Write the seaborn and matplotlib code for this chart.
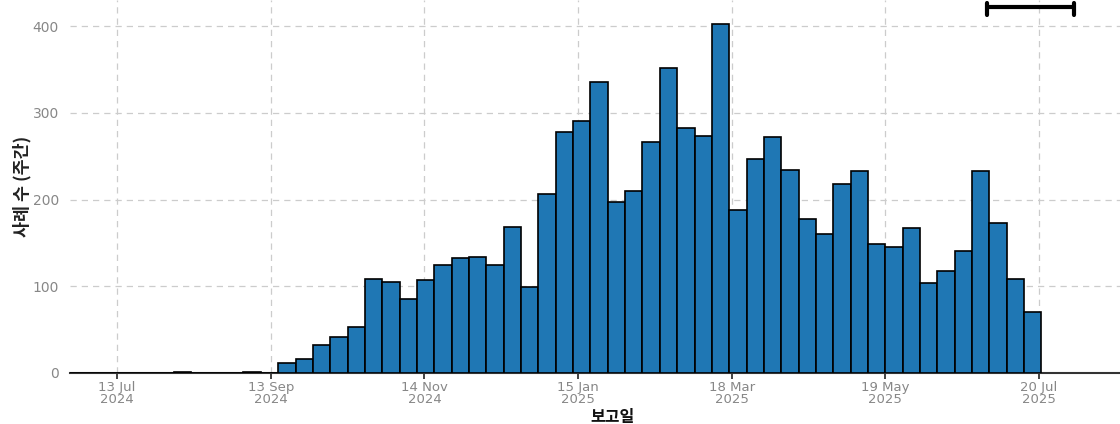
import pandas as pd
import seaborn as sns
import matplotlib
matplotlib.use("Agg")
import matplotlib.pyplot as plt
import matplotlib.dates as mdates

# weekly report counts, weeks starting on Mondays
first_week = "2024-06-24"
weekly_cases = [
    0, 0, 0, 0, 0, 0, 1, 0, 0, 0, 1, 0,
    11, 16, 32, 41, 53, 108, 105, 85, 107, 124, 133, 134, 125, 168, 99,
    206, 278, 291, 335, 197, 210, 266, 352, 283, 273, 402, 188,
    247, 272, 234, 178, 160, 218, 233, 149, 145, 167, 104, 118, 141,
    233, 173, 108, 70,
]
tick_dates = ["2024-07-13", "2024-09-13", "2024-11-14", "2025-01-15",
              "2025-03-18", "2025-05-19", "2025-07-20"]
tick_labels = ["13 Jul\n2024", "13 Sep\n2024", "14 Nov\n2024", "15 Jan\n2025",
               "18 Mar\n2025", "19 May\n2025", "20 Jul\n2025"]
y_ticks = [0, 100, 200, 300, 400]
# bracket marking the most recent (incomplete) reporting weeks
bracket_start = "2025-06-29"
bracket_end = "2025-08-03"

weeks = pd.date_range(first_week, periods=len(weekly_cases), freq="7D")
df = pd.DataFrame({"week": mdates.date2num(weeks), "cases": weekly_cases})
edges = list(df["week"]) + [df["week"].iloc[-1] + 7]

sns.set_theme(style="white")
plt.rcParams["font.family"] = ["Noto Sans CJK KR", "DejaVu Sans"]

fig = plt.figure(figsize=(11.2, 4.24), dpi=100)
# the plot area runs a little past the right edge of the picture
ax = fig.add_axes([0.0625, 0.1203, 0.96875, 0.8797])

sns.histplot(data=df, x="week", weights="cases", bins=edges, ax=ax,
             color="#1f77b4", alpha=1, edgecolor="black", linewidth=1.2, zorder=3)

x0 = df["week"].iloc[0]
ax.set_xlim(x0, x0 + 437.8)
ax.set_ylim(0, 430)

ax.set_xticks(mdates.date2num(pd.to_datetime(tick_dates)))
ax.set_xticklabels(tick_labels, color="#878787", fontsize=9.5, linespacing=0.9,
                   family="DejaVu Sans")
ax.set_yticks(y_ticks)
ax.set_yticklabels([str(v) for v in y_ticks], color="#878787", fontsize=10,
                   family="DejaVu Sans")
ax.tick_params(axis="x", length=4, width=1.2, color="#222222", pad=2, direction="out", bottom=True)
ax.tick_params(axis="y", length=0, pad=8)

ax.grid(True, color="#cccccc", linestyle=(0, (5, 4)), linewidth=0.9, zorder=0)
ax.set_axisbelow(True)
for side in ["top", "right", "left"]:
    ax.spines[side].set_visible(False)
ax.spines["bottom"].set_color("#333333")
ax.spines["bottom"].set_linewidth(1.5)

ax.set_xlabel("보고일", fontsize=11.5, fontweight="bold", color="#111111", labelpad=2)
ax.set_ylabel("사례 수 (주간)", fontsize=12.5, fontweight="bold", color="#222222", labelpad=1)

b0 = mdates.date2num(pd.Timestamp(bracket_start))
b1 = mdates.date2num(pd.Timestamp(bracket_end))
ax.plot([b0, b1], [422.5, 422.5], color="black", linewidth=3, clip_on=False, zorder=5)
for b in (b0, b1):
    ax.plot([b, b], [412.5, 426.5], color="black", linewidth=3, clip_on=False, zorder=5)

fig.savefig("out.png", dpi=100)
